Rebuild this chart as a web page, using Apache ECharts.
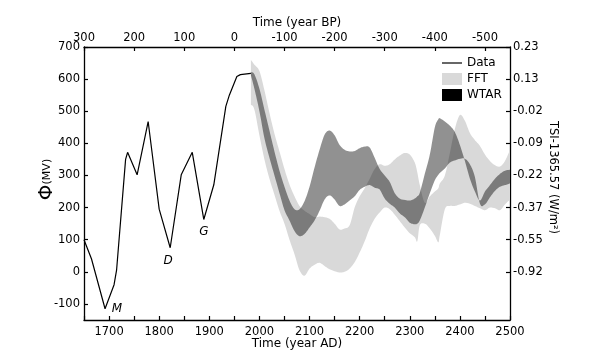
<!DOCTYPE html>
<html><head><meta charset="utf-8">
<script src="https://cdn.jsdelivr.net/npm/echarts@6/dist/echarts.min.js"></script>
<style>html,body{margin:0;padding:0;background:#fff}#c{width:600px;height:355px}</style>
</head><body><div id="c"></div>
<script>
// ---- data ----
const dataYears  = [1650,1665,1692,1710,1715,1733,1737,1756,1778,1800,1822,1844,1866,1889,1909,1933,1940,1955,1962,1983];
const dataValues = [100,40,-115,-40,5,350,372,302,468,195,75,302,372,163,271,515,550,608,614,618];

const bandYears = [1983,1990,2000,2010,2020,2030,2040,2050,2060,2070,2080,2090,2100,2110,2120,2130,2140,2150,2160,2170,2180,2190,2200,2210,2220,2230,2240,2250,2260,2270,2280,2290,2300,2310,2315,2320,2330,2340,2350,2357,2360,2370,2380,2390,2400,2410,2420,2430,2440,2450,2460,2470,2480,2490,2500];
const fftLo  = [520,505,425,350,290,240,190,150,100,55,5,-12,10,22,28,18,8,2,-2,0,10,30,60,95,135,165,185,200,195,178,158,138,120,108,95,145,150,135,112,92,115,195,205,205,210,215,212,205,198,192,200,198,192,210,225];
const fftHi  = [660,645,625,565,495,430,375,320,272,235,205,190,180,170,172,170,165,150,132,135,145,200,235,260,290,320,335,330,335,350,362,370,365,340,310,270,215,235,250,260,275,300,370,445,488,470,432,410,392,365,345,332,328,345,380];
const wtarLo = [612,570,500,416,355,300,245,192,160,127,111,118,138,160,190,225,238,225,205,210,222,235,255,265,270,262,256,228,212,200,182,170,153,148,150,160,200,245,285,302,308,322,340,347,352,352,335,295,212,210,232,252,265,270,275];
const wtarHi = [622,615,570,505,440,375,315,265,222,195,195,220,265,325,380,427,440,425,395,380,375,376,385,390,387,355,320,300,280,245,228,224,222,228,235,246,305,365,450,475,478,468,455,435,395,345,290,250,222,250,270,290,305,315,318];

const xTickValues  = [1650,1700,1750,1800,1850,1900,1950,2000,2050,2100,2150,2200,2250,2300,2350,2400,2450,2500];
const xLabelValues = [1700,1800,1900,2000,2100,2200,2300,2400,2500];
const bpLabels     = [300,200,100,0,-100,-200,-300,-400,-500];
const yLabelValues = [-100,0,100,200,300,400,500,600,700];
const tsiLabels    = ['0.23','0.13','-0.02','-0.09','-0.22','-0.37','-0.55','-0.92'];
const tsiPositions = [700,600,500,400,300,200,100,0];

const annoLabels = ['M','D','G'];
const annoYears  = [1692,1822,1889];
const annoValues = [-115,75,163];

// ---- styling ----
const FONT = 'DejaVu Sans';
const annoOffsets = {M:[12,0], D:[-2,13.5], G:[0,12]};
const FFT_COLOR = '#d9d9d9';
const WTAR_COLOR = 'rgba(0,0,0,0.43)';

function axisBase() {
  return {
    nameMoveOverlap:false,
    axisLine:{show:true, onZero:false, lineStyle:{color:'#000', width:1.3}},
    axisTick:{show:true, inside:true, length:4, lineStyle:{color:'#000', width:1.2}},
    splitLine:{show:false},
    minorTick:{show:false},
    axisLabel:{color:'#000', fontFamily:FONT, fontSize:11.5, formatter:v => String(v)}
  };
}
function merge(a,b){ for (const k in b){ if (b[k] && typeof b[k]==='object' && !Array.isArray(b[k]) && a[k] && typeof a[k]==='object') merge(a[k], b[k]); else a[k]=b[k]; } return a; }

const bpPositions = bpLabels.map(b => 1950 - b);
const pairs = (xs, ys) => xs.map((x,i)=>[x, ys[i]]);

// render-time smoothing of pixel points (Catmull-Rom -> Bezier, sampled)
function smoothPixels(pts) {
  const out = [pts[0]];
  const t = 1/6, N = 8;
  for (let i = 0; i < pts.length - 1; i++) {
    const p0 = pts[i-1] || pts[i], p1 = pts[i], p2 = pts[i+1], p3 = pts[i+2] || pts[i+1];
    const c1 = [p1[0] + (p2[0]-p0[0])*t, p1[1] + (p2[1]-p0[1])*t];
    const c2 = [p2[0] - (p3[0]-p1[0])*t, p2[1] - (p3[1]-p1[1])*t];
    for (let k = 1; k <= N; k++) {
      const s = k / N, u = 1 - s;
      out.push([
        u*u*u*p1[0] + 3*u*u*s*c1[0] + 3*u*s*s*c2[0] + s*s*s*p2[0],
        u*u*u*p1[1] + 3*u*u*s*c1[1] + 3*u*s*s*c2[1] + s*s*s*p2[1]
      ]);
    }
  }
  return out;
}
function bandSeries(name, lo, hi, color, z) {
  return {
    type:'custom', name:name, z:z, silent:true, clip:true,
    itemStyle:{color:color},
    data: bandYears.map((y,i)=>[y, lo[i], hi[i]]),
    encode:{x:0, y:[1,2]},
    renderItem:function(params, api){
      if (params.dataIndex !== 0) return null;
      const top = smoothPixels(bandYears.map((y,i)=>api.coord([y, hi[i]])));
      const bot = smoothPixels(bandYears.map((y,i)=>api.coord([y, lo[i]]))).reverse();
      return {type:'polygon', shape:{points: top.concat(bot)}, style:{fill:color, stroke:null}};
    }
  };
}

const option = {
  animation:false,
  backgroundColor:'#fff',
  grid:{left:84, right:90, top:47, bottom:34, containLabel:false},
  legend:{
    orient:'vertical', left:442, top:57, padding:0, itemGap:4, itemWidth:20, itemHeight:12,
    textStyle:{color:'#000', fontFamily:FONT, fontSize:12},
    data:[
      {name:'Data', icon:'path://M0,0M20,12M0,5.4H20V6.6H0Z', itemStyle:{color:'#000', borderWidth:0}},
      {name:'FFT', icon:'rect', itemStyle:{color:FFT_COLOR, borderWidth:0}},
      {name:'WTAR', icon:'rect', itemStyle:{color:'#000', borderWidth:0}}
    ]
  },
  xAxis:[
    merge(axisBase(), {
      type:'value', position:'bottom', min:1650, max:2500,
      axisTick:{customValues:xTickValues},
      axisLabel:{customValues:xLabelValues, margin:6},
      name:'Time (year AD)', nameLocation:'middle', nameGap:18,
      nameTextStyle:{color:'#000', fontFamily:FONT, fontSize:12}
    }),
    merge(axisBase(), {
      type:'value', position:'top', min:1650, max:2500,
      axisTick:{customValues:bpPositions},
      axisLabel:{customValues:bpPositions, margin:3, formatter:v => String(1950 - v)},
      name:'Time (year BP)', nameLocation:'middle', nameGap:18,
      nameTextStyle:{color:'#000', fontFamily:FONT, fontSize:12}
    })
  ],
  yAxis:[
    merge(axisBase(), {
      type:'value', position:'left', min:-150, max:700,
      axisTick:{customValues:yLabelValues},
      axisLabel:{customValues:yLabelValues, margin:4},
      name:'{a|Φ}{b|(MV)}', nameLocation:'middle', nameGap:27, nameRotate:90,
      nameTextStyle:{color:'#000', padding:[0,0,0,8],
        rich:{a:{fontFamily:FONT, fontSize:20, color:'#000'}, b:{fontFamily:FONT, fontSize:11, color:'#000'}}}
    }),
    merge(axisBase(), {
      type:'value', position:'right', min:-150, max:700,
      axisTick:{customValues:tsiPositions},
      axisLabel:{customValues:tsiPositions, margin:3, formatter:v => tsiLabels[tsiPositions.indexOf(v)]},
      name:'TSI-1365.57 (W/m²)', nameLocation:'middle', nameGap:37, nameRotate:-90,
      nameTextStyle:{color:'#000', fontFamily:FONT, fontSize:11.5, padding:[0,12,0,0]}
    })
  ],
  series:[
    bandSeries('FFT', fftLo, fftHi, FFT_COLOR, 1),
    bandSeries('WTAR', wtarLo, wtarHi, WTAR_COLOR, 2),
    {type:'line', name:'Data', data:pairs(dataYears, dataValues), symbol:'none',
     lineStyle:{color:'#000', width:1.2}, itemStyle:{color:'#000'}, z:3,
     markPoint:{
       symbol:'circle', symbolSize:0, silent:true,
       label:{show:true, color:'#000', fontFamily:FONT, fontStyle:'italic', fontSize:12, formatter:'{b}'},
       data:annoLabels.map((n,i)=>({name:n, coord:[annoYears[i], annoValues[i]], label:{offset:annoOffsets[n]}}))
     }}
  ]
};
const chart = echarts.init(document.getElementById('c'), null, {renderer:'canvas'});
chart.setOption(option);
</script>
</body></html>
